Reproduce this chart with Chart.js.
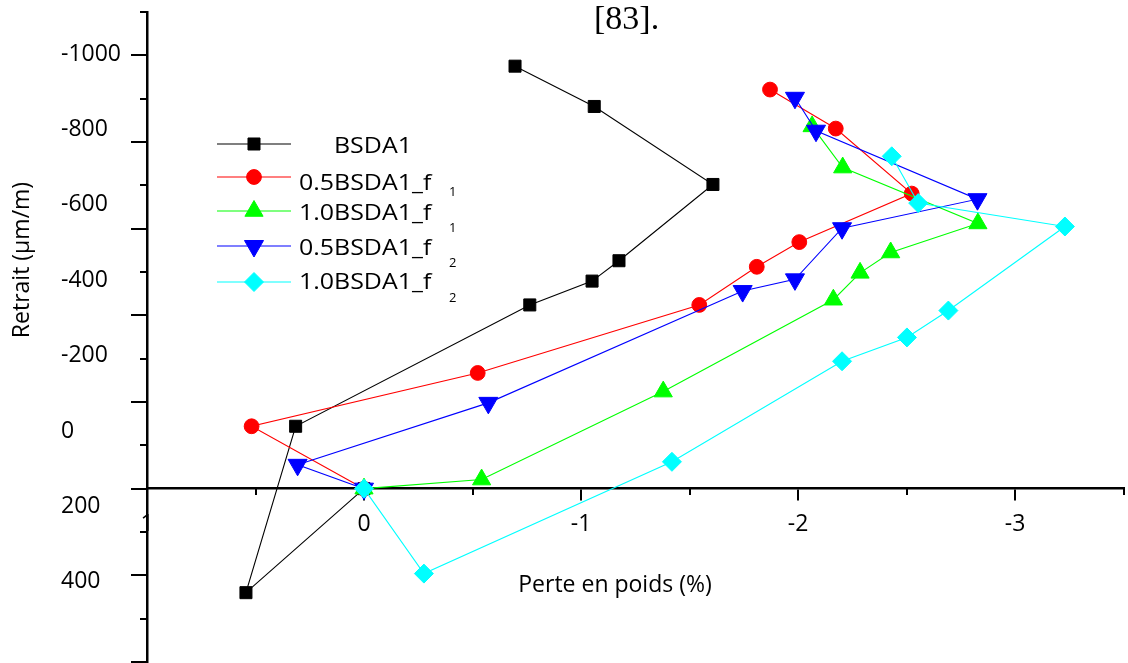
<!DOCTYPE html>
<html>
<head>
<meta charset="utf-8">
<script src="https://cdn.jsdelivr.net/npm/chart.js@4/dist/chart.umd.min.js"></script>
<style>
  html, body { margin: 0; padding: 0; background: #fff; }
  #wrap { width: 1128px; height: 663px; position: relative; }
  canvas { display: block; }
</style>
</head>
<body>
<div id="wrap"><canvas id="c" width="1128" height="663"></canvas></div>
<script>
// Weight loss (%) vs. shrinkage (µm/m), one pair of arrays per mix
const bsda1X = [0, 0.544, 0.315, -0.764, -1.051, -1.175, -1.608, -1.061, -0.696];
const bsda1Y = [0, 240, -144, -424, -479, -526, -702, -882, -975];

const half1X = [0, 0.518, -0.524, -1.545, -1.810, -2.006, -2.524, -2.174, -1.871];
const half1Y = [0, -144, -267, -424, -512, -569, -681, -831, -921];

const full1X = [0, -0.542, -1.379, -2.163, -2.286, -2.427, -2.829, -2.206, -2.065];
const full1Y = [0, -21, -224, -436, -498, -545, -612, -741, -836];

const half2X = [0, 0.306, -0.573, -1.745, -1.986, -2.203, -2.827, -2.083, -1.986];
const half2Y = [0, -55, -198, -456, -483, -601, -668, -826, -902];

const full2X = [0, -0.276, -1.419, -2.203, -2.502, -2.693, -3.230, -2.554, -2.432];
const full2Y = [0, 196, -62, -294, -349, -411, -605, -659, -767];

// Series names (the trailing digit is set as a subscript in the key)
const seriesNames = ['BSDA1', '0.5BSDA1_f', '1.0BSDA1_f', '0.5BSDA1_f', '1.0BSDA1_f'];
const seriesSubs  = ['', '1', '1', '2', '2'];

// Axis ticks
const xMajorTicks = [1, 0, -1, -2, -3];
const xMinorTicks = [0.5, -0.5, -1.5, -2.5, -3.5];
const yMajorTicks = [-1000, -800, -600, -400, -200, 0, 200, 400];
const yMinorTicks = [-1100, -900, -700, -500, -300, -100, 100, 300];
const yLabelTicks = [-1000, -800, -600, -400, -200, 0, 200, 400];

const toPoints = (xs, ys) => xs.map((x, i) => ({ x: x, y: ys[i] }));

const FONT = '"Open Sans", "DejaVu Sans", sans-serif';

function series(i, xs, ys, color, style, radius, rotation, order) {
  return {
    label: seriesNames[i] + seriesSubs[i],
    data: toPoints(xs, ys),
    showLine: true,
    borderColor: color,
    backgroundColor: color,
    borderWidth: 1.1,
    pointStyle: style,
    pointRadius: radius,
    pointRotation: rotation,
    pointBackgroundColor: color,
    pointBorderColor: color,
    pointBorderWidth: 1,
    order: order,
    clip: false
  };
}

const datasets = [
  series(0, bsda1X, bsda1Y, '#000000', 'rect', 8.5, 0, 5),
  series(1, half1X, half1Y, '#ff0000', 'circle', 7.4, 0, 4),
  series(2, full1X, full1Y, '#00ff00', 'triangle', 10.5, 0, 3),
  series(3, half2X, half2Y, '#0000ff', 'triangle', 11, 180, 2),
  series(4, full2X, full2Y, '#00ffff', 'rectRot', 9.5, 0, 1)
];

function zeroPadding(s) {
  s.paddingLeft = 0; s.paddingRight = 0; s.paddingTop = 0; s.paddingBottom = 0;
}
const setTicks = arr => s => { s.ticks = arr.map(v => ({ value: v })); };

// Key: line + marker, name, and a detached subscript digit
const KEY = {
  x0: 217, x1: 291, markX: 254,
  textX: [334, 299, 299, 299, 299],
  rowY: [144, 177, 211, 246, 282],
  textY: [147, 184, 214, 249, 283],
  subX: 449,
  subY: [0, 192, 228, 263, 298]
};

const keyPlugin = {
  id: 'seriesKey',
  afterDraw(chart) {
    const ctx = chart.ctx;
    chart.data.datasets.forEach((ds, i) => {
      const y = KEY.rowY[i];
      ctx.save();
      ctx.strokeStyle = ds.borderColor;
      ctx.lineWidth = ds.borderWidth;
      ctx.beginPath();
      ctx.moveTo(KEY.x0, y);
      ctx.lineTo(KEY.x1, y);
      ctx.stroke();
      ctx.fillStyle = ds.pointBackgroundColor;
      ctx.strokeStyle = ds.pointBorderColor;
      ctx.lineWidth = 1;
      Chart.helpers.drawPoint(ctx, {
        pointStyle: ds.pointStyle,
        rotation: ds.pointRotation,
        radius: ds.pointRadius,
        borderWidth: 1
      }, KEY.markX, y);
      ctx.restore();

      ctx.save();
      ctx.fillStyle = '#000';
      ctx.textBaseline = 'middle';
      ctx.textAlign = 'left';
      ctx.font = '21.5px ' + FONT;
      ctx.translate(KEY.textX[i], KEY.textY[i]);
      ctx.scale(1.16, 1);
      ctx.fillText(seriesNames[i], 0, 0);
      ctx.restore();

      if (seriesSubs[i]) {
        ctx.save();
        ctx.fillStyle = '#000';
        ctx.textBaseline = 'middle';
        ctx.textAlign = 'left';
        ctx.font = '13px ' + FONT;
        ctx.fillText(seriesSubs[i], KEY.subX, KEY.subY[i]);
        ctx.restore();
      }
    });
  }
};

// Caption fragment and axis titles
const textPlugin = {
  id: 'titles',
  afterDraw(chart) {
    const ctx = chart.ctx;
    ctx.save();
    ctx.fillStyle = '#000';
    ctx.font = '34px "Liberation Serif", "Times New Roman", serif';
    ctx.textAlign = 'left';
    ctx.textBaseline = 'alphabetic';
    ctx.fillText('[83].', 594, 28.5);

    ctx.font = '23px ' + FONT;
    ctx.textAlign = 'center';
    ctx.fillText('Perte en poids (%)', 615, 591.5);

    ctx.translate(22, 260);
    ctx.rotate(-Math.PI / 2);
    ctx.textBaseline = 'middle';
    ctx.fillText('Retrait (\u03bcm/m)', 0, 0);
    ctx.restore();
  }
};

const tickFont = { family: FONT, size: 23 };

new Chart(document.getElementById('c'), {
  type: 'scatter',
  data: { datasets: datasets },
  plugins: [keyPlugin, textPlugin],
  options: {
    responsive: false,
    animation: false,
    devicePixelRatio: 1,
    layout: { autoPadding: false, padding: { left: 61, right: 4.5, top: 12, bottom: 1 } },
    plugins: { legend: { display: false }, tooltip: { enabled: false }, title: { display: false } },
    scales: {
      x: {
        type: 'linear', axis: 'x', position: { y: 0 },
        min: -3.5, max: 1, reverse: true,
        afterBuildTicks: setTicks(xMajorTicks),
        afterFit: zeroPadding,
        grid: { drawOnChartArea: false, drawTicks: true, tickLength: 11, tickWidth: 2, tickColor: '#000', lineWidth: 2, color: '#000' },
        border: { display: true, color: '#000', width: 2.5 },
        ticks: { color: '#000', font: tickFont, padding: 10.5, autoSkip: false, maxRotation: 0, callback: v => String(v) }
      },
      xMinor: {
        type: 'linear', axis: 'x', position: { y: 0 },
        min: -3.5, max: 1, reverse: true,
        afterBuildTicks: setTicks(xMinorTicks),
        afterFit: zeroPadding,
        grid: { drawOnChartArea: false, drawTicks: true, tickLength: 6, tickWidth: 2, tickColor: '#000', lineWidth: 2, color: '#000' },
        border: { display: false },
        ticks: { display: false, autoSkip: false }
      },
      y: {
        type: 'linear', axis: 'y', position: { x: 1 },
        min: -1100, max: 400, reverse: true,
        afterBuildTicks: setTicks(yMajorTicks),
        afterFit: zeroPadding,
        grid: { drawOnChartArea: false, drawTicks: true, tickLength: 15, tickWidth: 2, tickColor: '#000', lineWidth: 2, color: '#000' },
        border: { display: true, color: '#000', width: 2.5 },
        ticks: { display: false, autoSkip: false }
      },
      yMinor: {
        type: 'linear', axis: 'y', position: { x: 1 },
        min: -1100, max: 400, reverse: true,
        afterBuildTicks: setTicks(yMinorTicks),
        afterFit: zeroPadding,
        grid: { drawOnChartArea: false, drawTicks: true, tickLength: 7, tickWidth: 2, tickColor: '#000', lineWidth: 2, color: '#000' },
        border: { display: false },
        ticks: { display: false, autoSkip: false }
      },
      yLab: {
        type: 'linear', axis: 'y', position: 'left',
        min: -1111.4, max: 612.7, reverse: true,
        afterBuildTicks: setTicks(yLabelTicks),
        afterFit: s => { zeroPadding(s); s.width = 86; },
        grid: { display: false, drawTicks: false },
        border: { display: false },
        ticks: { color: '#000', font: tickFont, padding: 0, crossAlign: 'far', autoSkip: false, callback: v => String(v) }
      }
    }
  }
});
</script>
</body>
</html>
